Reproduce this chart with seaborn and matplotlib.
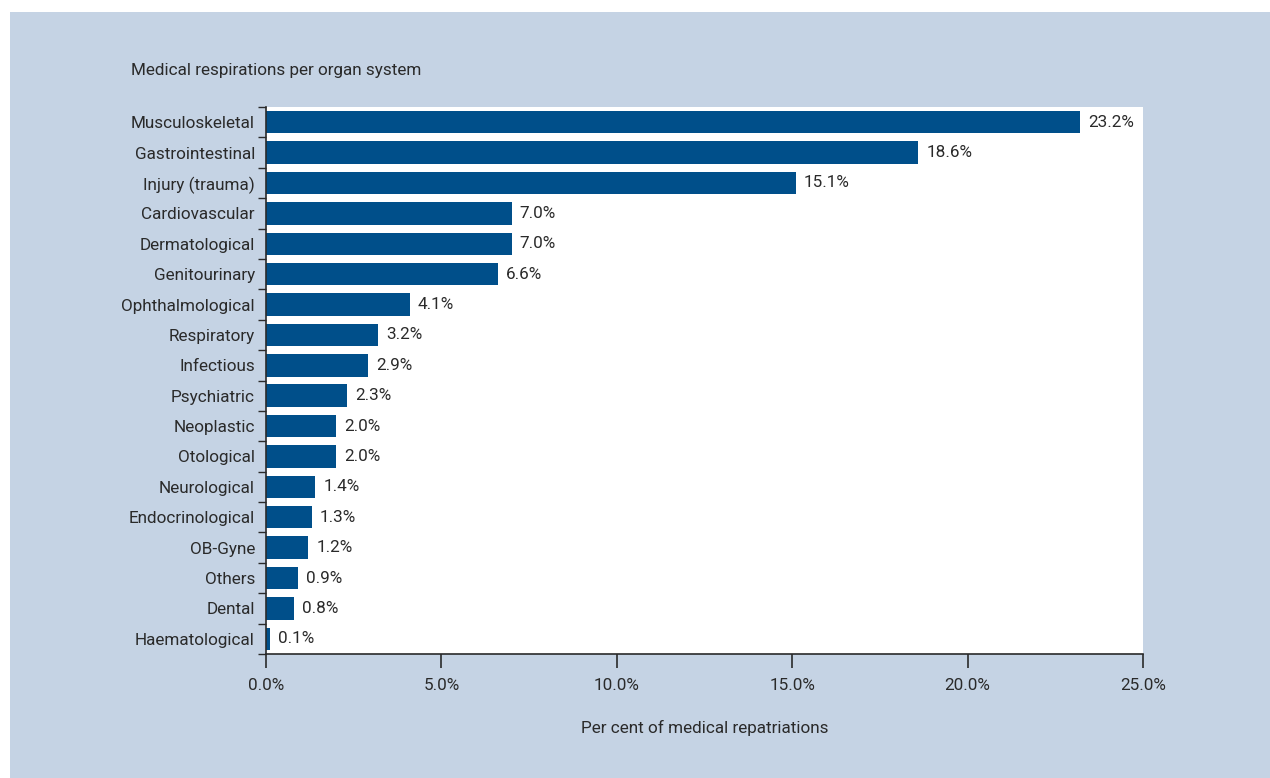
import matplotlib
matplotlib.use("Agg")
import matplotlib.pyplot as plt
import seaborn as sns
import pandas as pd
import numpy as np
from matplotlib.patches import Rectangle
from matplotlib.ticker import FixedLocator, FuncFormatter
from matplotlib import font_manager

categories = ["Musculoskeletal", "Gastrointestinal", "Injury (trauma)", "Cardiovascular",
              "Dermatological", "Genitourinary", "Ophthalmological", "Respiratory",
              "Infectious", "Psychiatric", "Neoplastic", "Otological", "Neurological",
              "Endocrinological", "OB-Gyne", "Others", "Dental", "Haematological"]
values = [23.2, 18.6, 15.1, 7.0, 7.0, 6.6, 4.1, 3.2, 2.9, 2.3, 2.0, 2.0, 1.4, 1.3, 1.2, 0.9, 0.8, 0.1]
x_ticks = [0, 5, 10, 15, 20, 25]

df = pd.DataFrame({"category": categories, "value": values})

sns.set_theme(style="white")
names = {f.name for f in font_manager.fontManager.ttflist}
fam = [f for f in ["Liberation Sans Narrow", "DejaVu Sans Condensed", "Roboto", "DejaVu Sans"] if f in names]
plt.rcParams["font.family"] = fam + ["DejaVu Sans"]

bg = "#c5d3e4"
bar_c = "#004f8a"
txt = "#2a2a2a"
fs = 12.3

fig = plt.figure(figsize=(12.7, 7.78), dpi=100, facecolor="white")
fig.patches.append(Rectangle((10/1270, 0), 1 - 10/1270, 1 - 12/778, transform=fig.transFigure,
                             facecolor=bg, edgecolor="none", zorder=-10))
ax = fig.add_axes([266/1270, 1 - 654/778, (1143 - 266)/1270, (654 - 107)/778])
ax.set_facecolor("white")

sns.barplot(data=df, x="value", y="category", color=bar_c, width=0.74, saturation=1,
            linewidth=0, ax=ax)

ax.set_xlim(0, 25)
ax.set_ylim(len(categories) - 0.5, -0.5)
ax.set_xticks(x_ticks)
ax.xaxis.set_major_formatter(FuncFormatter(lambda v, p: f"{v:.1f}%"))
ax.tick_params(axis="x", length=10, width=1.2, color=txt, labelsize=fs, labelcolor=txt, pad=7, bottom=True)
ax.yaxis.set_minor_locator(FixedLocator(np.arange(-0.5, len(categories), 1.0)))
ax.tick_params(axis="y", which="major", length=0, labelsize=fs, labelcolor=txt, pad=8)
ax.tick_params(axis="y", which="minor", length=6, width=1.0, color=txt, left=True)

for s in ["top", "right"]:
    ax.spines[s].set_visible(False)
for s in ["left", "bottom"]:
    ax.spines[s].set_color(txt)
    ax.spines[s].set_linewidth(1.2)

for i, v in enumerate(values):
    ax.text(v + 0.23, i, f"{v:.1f}%", va="center", ha="left", fontsize=fs, color=txt)

ax.set_ylabel("")
ax.set_xlabel("Per cent of medical repatriations", fontsize=fs, color=txt, labelpad=20)
fig.text(131/1270, 1 - 70/778, "Medical respirations per organ system", fontsize=fs,
         color=txt, ha="left", va="center")

fig.savefig("out.png", dpi=100, facecolor=fig.get_facecolor())
